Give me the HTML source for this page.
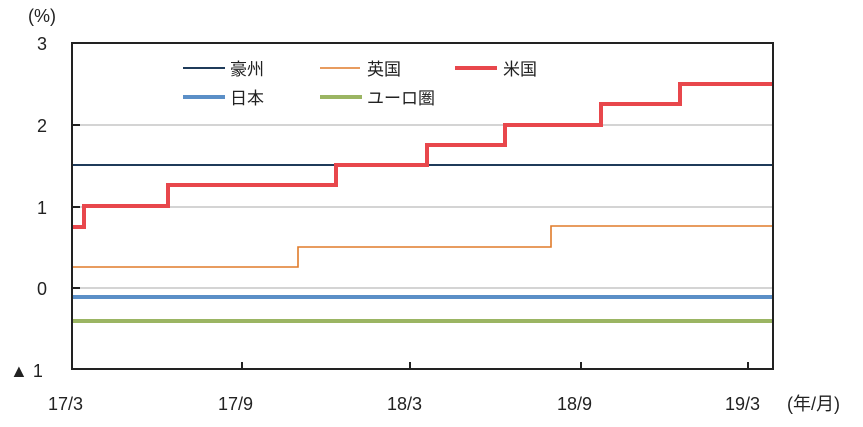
<!DOCTYPE html>
<html><head><meta charset="utf-8"><style>
body{margin:0;background:#fff;}
svg text{font-family:"Liberation Sans","Noto Sans CJK JP",sans-serif;fill:#222;}
</style></head><body>
<svg width="863" height="422" viewBox="0 0 863 422" xmlns="http://www.w3.org/2000/svg">
<g stroke="#d4d4d4" stroke-width="2">
<line x1="80" y1="125" x2="773" y2="125"/>
<line x1="80" y1="207" x2="773" y2="207"/>
<line x1="80" y1="288" x2="773" y2="288"/>
</g>
<g stroke="#222" stroke-width="2">
<line x1="72" y1="125" x2="80" y2="125"/>
<line x1="72" y1="207" x2="80" y2="207"/>
<line x1="72" y1="288" x2="80" y2="288"/>
<line x1="242" y1="369" x2="242" y2="362"/>
<line x1="410" y1="369" x2="410" y2="362"/>
<line x1="581" y1="369" x2="581" y2="362"/>
<line x1="748" y1="369" x2="748" y2="362"/>
</g>
<line x1="72" y1="165" x2="773" y2="165" stroke="#1f3b5a" stroke-width="2"/>
<line x1="72" y1="297" x2="773" y2="297" stroke="#5b8fc7" stroke-width="4"/>
<line x1="72" y1="321" x2="773" y2="321" stroke="#9bb563" stroke-width="4"/>
<polyline fill="none" stroke="#e07b2a" stroke-width="1.6" points="72,267 298,267 298,247 551,247 551,226 773,226"/>
<polyline fill="none" stroke="#e8474c" stroke-width="4" points="72,227 84,227 84,206 168,206 168,185 336,185 336,165 427,165 427,145 505,145 505,125 601,125 601,104 680,104 680,84 773,84"/>
<rect x="72" y="43" width="701" height="326" fill="none" stroke="#222" stroke-width="2"/>
<g stroke-width="2.5">
<line x1="183" y1="68" x2="225" y2="68" stroke="#1f3b5a" stroke-width="2"/>
<line x1="320" y1="68" x2="360" y2="68" stroke="#e07b2a" stroke-width="1.6"/>
<line x1="455" y1="68" x2="497" y2="68" stroke="#e8474c" stroke-width="4"/>
<line x1="183" y1="97" x2="225" y2="97" stroke="#5b8fc7" stroke-width="4"/>
<line x1="320" y1="97" x2="362" y2="97" stroke="#9bb563" stroke-width="4"/>
</g>
<g font-size="17">
<text x="230" y="75">豪州</text>
<text x="367" y="75">英国</text>
<text x="503" y="75">米国</text>
<text x="230" y="104">日本</text>
<text x="367" y="104">ユーロ圏</text>
</g>
<g font-size="18">
<text x="28" y="22">(%)</text>
<text x="37" y="50">3</text>
<text x="37" y="132">2</text>
<text x="37" y="214">1</text>
<text x="37" y="295">0</text>
<text x="10" y="377">▲ 1</text>
<text x="48" y="410">17/3</text>
<text x="218" y="410">17/9</text>
<text x="387" y="410">18/3</text>
<text x="557" y="410">18/9</text>
<text x="725" y="410">19/3</text>
<text x="787" y="410">(年/月)</text>
</g>
</svg>
</body></html>
